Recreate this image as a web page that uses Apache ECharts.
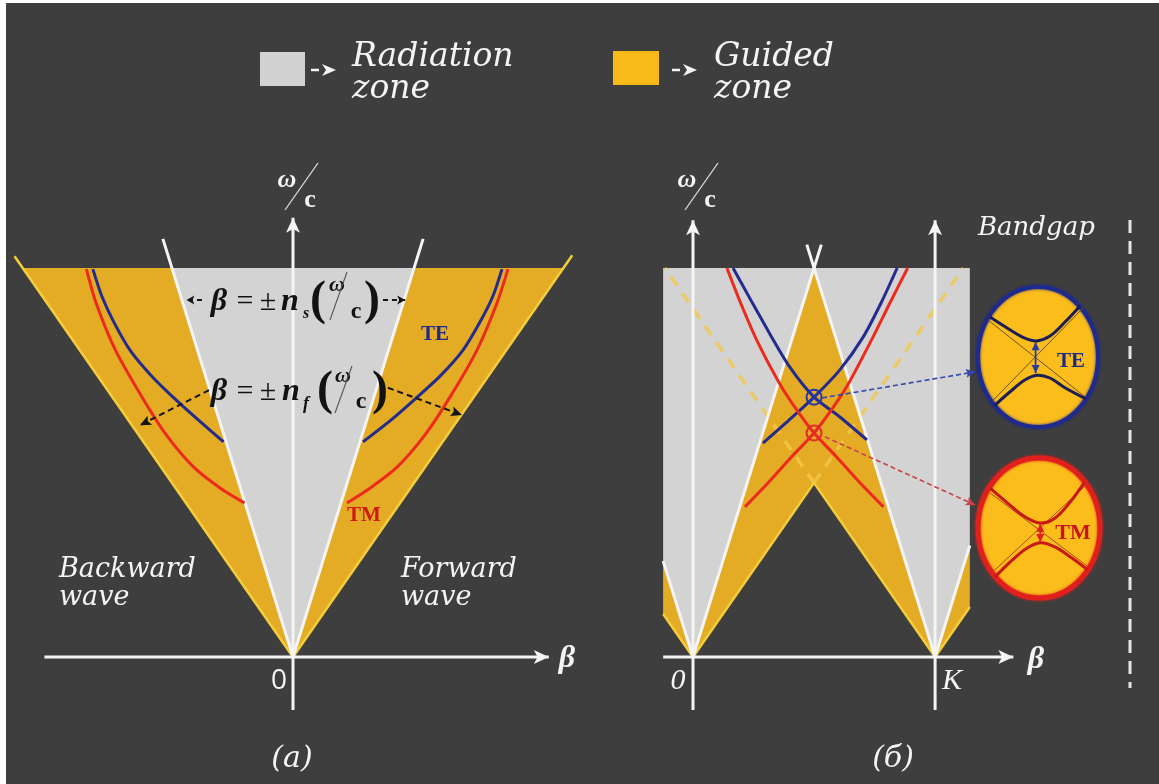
<!DOCTYPE html>
<html>
<head>
<meta charset="utf-8">
<script src="https://cdn.jsdelivr.net/npm/echarts@6/dist/echarts.min.js"></script>
<style>
  html, body { margin: 0; padding: 0; background: #ffffff; }
  #c { width: 1159px; height: 784px; }
</style>
</head>
<body>
<div id="c"></div>
<script>
// ---- model values -------------------------------------------------------
// slopes of the light lines beta = n * (omega / c)
const nSub = 1.5;      // substrate index (radiation-zone edge)
const nFilm = 3.35;    // film index (guided-zone edge)
const omegaTop = 10;   // upper edge of the shaded zones (omega / c)
const K = 30;          // grating vector
const bLeft = -3.7;    // left edge of the zone strip in (b)
const bRight = 34.3;   // right edge of the zone strip in (b)

// (a) guided mode dispersion curves, points [beta, omega/c]
const teRightA = [[8.67, 5.53], [12.02, 6.07], [15.12, 6.63], [18.22, 7.22], [21.07, 7.89], [23.17, 8.61], [24.78, 9.28], [25.9, 9.97]];
const tmRightA = [[6.69, 3.96], [9.54, 4.34], [12.89, 4.88], [16.36, 5.71], [19.45, 6.68], [22.8, 7.89], [25.28, 9.10], [26.64, 9.97]];
const teLeftA = [[-8.6, 5.53], [-11.6, 6.07], [-14.6, 6.63], [-17.5, 7.22], [-20.2, 7.89], [-22.2, 8.61], [-23.7, 9.28], [-24.8, 9.97]];
const tmLeftA = [[-6.0, 3.96], [-9.0, 4.34], [-12.3, 4.88], [-15.7, 5.71], [-18.7, 6.68], [-22.0, 7.89], [-24.4, 9.10], [-25.6, 9.97]];

// (b) folded curves: forward branch from 0 and backward branch from K
const teFwdB = [[8.67, 5.50], [11.9, 6.09], [15.0, 6.68], [18.2, 7.38], [21.1, 8.23], [23.3, 9.10], [25.3, 10.0]];
const teBwdB = [[21.56, 5.58], [18.2, 6.17], [15.0, 6.68], [12.0, 7.45], [9.4, 8.35], [7.1, 9.2], [4.96, 10.0]];
const tmFwdB = [[6.44, 3.86], [9.4, 4.5], [12.2, 5.14], [15.0, 5.76], [17.3, 6.4], [19.3, 7.04], [22.0, 8.1], [24.4, 9.1], [26.6, 10.0]];
const tmBwdB = [[23.6, 3.86], [20.6, 4.5], [17.8, 5.14], [15.0, 5.76], [12.7, 6.4], [10.7, 7.04], [8.0, 8.1], [5.9, 9.1], [4.2, 10.0]];
const teCross = [15.0, 6.68];
const tmCross = [15.0, 5.76];

// zoomed crossings, unit frame [-1, 1]
const insetFrame = [[-1, 1], [1, -1]];
const teUpper = [[-0.8, 0.57], [-0.47, 0.39], [-0.22, 0.27], [-0.02, 0.23], [0.2, 0.3], [0.45, 0.5], [0.7, 0.73]];
const teLower = [[-0.72, -0.69], [-0.47, -0.5], [-0.22, -0.33], [-0.02, -0.26], [0.2, -0.3], [0.45, -0.44], [0.8, -0.6]];
const teAsym = [[[-0.82, 0.52], [0.8, -0.58]], [[-0.75, -0.62], [0.75, 0.7]]];
const teGap = [[-0.04, 0.21], [-0.04, -0.23]];
const tmUpper = [[-0.8, 0.57], [-0.48, 0.33], [-0.23, 0.16], [0.02, 0.07], [0.26, 0.14], [0.51, 0.37], [0.75, 0.66]];
const tmLower = [[-0.72, -0.7], [-0.44, -0.46], [-0.2, -0.29], [0.02, -0.21], [0.26, -0.27], [0.54, -0.43], [0.8, -0.6]];
const tmAsym = [[[-0.8, 0.5], [0.8, -0.55]], [[-0.75, -0.62], [0.78, 0.62]]];
const tmGap = [[0.02, 0.06], [0.02, -0.2]];

// ---- colours --------------------------------------------------------------
const BG = '#3e3e3e', GRAY = '#d3d3d3', GOLD = '#e4ac24', YEL = '#f4cd3a';
const WHITE = '#f4f4f4', BLUE = '#232c8e', RED = '#ec2a1e';

// ---- geometry built from the values above --------------------------------
const half = K / 2;
const zonesGoldA = [[[0, 0], [-nFilm * omegaTop, omegaTop], [nFilm * omegaTop, omegaTop]]];
const zonesGrayA = [[[0, 0], [-nSub * omegaTop, omegaTop], [nSub * omegaTop, omegaTop]]];
const linesFilmA = [[[-nFilm * 10.3, 10.3], [0, 0], [nFilm * 10.33, 10.33]]];
const linesSubA = [[[-nSub * 10.75, 10.75], [0, 0], [nSub * 10.75, 10.75]]];

const zonesGrayB = [
  [[bLeft, omegaTop], [half, omegaTop], [0, 0], [bLeft, -bLeft / nSub]],
  [[half, omegaTop], [bRight, omegaTop], [bRight, (bRight - K) / nSub], [K, 0]]
];
const zonesGoldB = [
  [[0, 0], [bLeft, -bLeft / nSub], [bLeft, -bLeft / nFilm]],
  [[0, 0], [half, half / nSub], [K, 0], [half, half / nFilm]],
  [[K, 0], [bRight, (bRight - K) / nSub], [bRight, (bRight - K) / nFilm]]
];
const linesSubB = [
  [[bLeft, -bLeft / nSub], [0, 0], [nSub * 10.6, 10.6]],
  [[K - nSub * 10.6, 10.6], [K, 0], [bRight, (bRight - K) / nSub]]
];
const linesFilmB = [[[bLeft, -bLeft / nFilm], [0, 0], [half, half / nFilm], [K, 0], [bRight, (bRight - K) / nFilm]]];
const linesFilmDashB = [
  [[half, half / nFilm], [nFilm * omegaTop, omegaTop]],
  [[half, half / nFilm], [K - nFilm * omegaTop, omegaTop]]
];

const axesA = [[[-30.8, 0], [31.7, 0]], [[0, -1.36], [0, 11.29]]];
const axesB = [[[bLeft, 0], [39.7, 0]], [[0, -1.36], [0, 11.23]], [[K, -1.36], [K, 11.23]]];
const dashArrowsA = [[[-10.4, 6.86], [-18.96, 5.96]], [[11.77, 6.92], [20.94, 6.22]]];
const eqArrowsA = [[[-11.28, 9.18], [-13.2, 9.18]], [[11.15, 9.18], [13.9, 9.18]]];
const linkTE = [[[15.98, 6.66], [34.94, 7.33]]];
const linkTM = [[[16.36, 5.66], [34.94, 3.91]]];

// ---- drawing helpers ----------------------------------------------------
function arrowHead(p, q, len, wid, notch) {
  const dx = q[0] - p[0], dy = q[1] - p[1];
  const L = Math.hypot(dx, dy) || 1, ux = dx / L, uy = dy / L, nx = -uy, ny = ux;
  const bx = q[0] - ux * len, by = q[1] - uy * len;
  const m = len * (1 - notch);
  return [[q[0], q[1]], [bx + nx * wid / 2, by + ny * wid / 2],
          [q[0] - ux * m, q[1] - uy * m], [bx - nx * wid / 2, by - ny * wid / 2]];
}

function fillSeries(grid, polys, color, z) {
  return {
    type: 'custom', xAxisIndex: grid, yAxisIndex: grid, z: z, silent: true,
    data: polys.map(p => p[0]),
    renderItem: (params, api) => ({
      type: 'polygon',
      shape: { points: polys[params.dataIndex].map(pt => api.coord(pt)) },
      style: { fill: color }
    })
  };
}

function strokeSeries(grid, lines, o) {
  return {
    type: 'custom', xAxisIndex: grid, yAxisIndex: grid, z: o.z || 5, silent: true,
    data: lines.map(l => l[l.length - 1]),
    renderItem: (params, api) => {
      const pts = lines[params.dataIndex].map(p => api.coord(p));
      const n = pts.length;
      const kids = [{
        type: 'polyline',
        shape: { points: pts, smooth: o.smooth || 0 },
        style: { fill: 'none', stroke: o.color, lineWidth: o.width, lineDash: o.dash || null, lineCap: o.cap || 'butt', opacity: o.opacity == null ? 1 : o.opacity }
      }];
      if (o.head) {
        kids.push({ type: 'polygon', shape: { points: arrowHead(pts[n - 2], pts[n - 1], o.head[0], o.head[1], o.head[2]) }, style: { fill: o.headColor || o.color } });
      }
      if (o.tail) {
        kids.push({ type: 'polygon', shape: { points: arrowHead(pts[1], pts[0], o.tail[0], o.tail[1], o.tail[2]) }, style: { fill: o.headColor || o.color } });
      }
      return { type: 'group', children: kids };
    }
  };
}

function ringSeries(grid, centers, color, z) {
  return {
    type: 'custom', xAxisIndex: grid, yAxisIndex: grid, z: z, silent: true,
    data: centers,
    renderItem: (params, api) => {
      const c = api.coord(centers[params.dataIndex]);
      const s = { stroke: color, lineWidth: 2, fill: 'none' };
      const d = 5.2;
      return {
        type: 'group', children: [
          { type: 'circle', shape: { cx: c[0], cy: c[1], r: 7.5 }, style: s },
          { type: 'line', shape: { x1: c[0] - d, y1: c[1] - d, x2: c[0] + d, y2: c[1] + d }, style: { stroke: color, lineWidth: 1.5 } },
          { type: 'line', shape: { x1: c[0] - d, y1: c[1] + d, x2: c[0] + d, y2: c[1] - d }, style: { stroke: color, lineWidth: 1.5 } }
        ]
      };
    }
  };
}

function ellipseSeries(grid, frame, fill, stroke, width, z) {
  return {
    type: 'custom', xAxisIndex: grid, yAxisIndex: grid, z: z, silent: true,
    data: [frame[0]],
    renderItem: (params, api) => {
      const a = api.coord(frame[0]), b = api.coord(frame[1]);
      return {
        type: 'path',
        shape: {
          pathData: 'M0 50 A50 50 0 1 0 100 50 A50 50 0 1 0 0 50 Z',
          x: a[0], y: a[1], width: b[0] - a[0], height: b[1] - a[1], layout: 'cover'
        },
        style: { fill: fill, stroke: stroke, lineWidth: width, shadowBlur: 3, shadowColor: stroke }
      };
    }
  };
}

// ---- axes (hidden; only provide the scales) -------------------------------
const hiddenAxis = (min, max) => ({ type: 'value', min: min, max: max, show: false });
const grids = [
  { left: 10.55, top: 190.2, width: 564.9, height: 544.6 },
  { left: 652.65, top: 190.2, width: 403.5, height: 544.6 },
  { left: 978, top: 287, width: 120, height: 140 },
  { left: 978, top: 458, width: 122, height: 140 }
].map(g => Object.assign({ containLabel: false, outerBoundsMode: 'none' }, g));

const xAxes = [hiddenAxis(-35, 35), hiddenAxis(-5, 45), hiddenAxis(-1, 1), hiddenAxis(-1, 1)]
  .map((a, i) => Object.assign(a, { gridIndex: i }));
const yAxes = [hiddenAxis(-2, 12), hiddenAxis(-2, 12), hiddenAxis(-1, 1), hiddenAxis(-1, 1)]
  .map((a, i) => Object.assign(a, { gridIndex: i }));

const AXIS_HEAD = [15, 14, 0.25];

const series = [
  // (a) zones
  fillSeries(0, zonesGoldA, GOLD, 1),
  fillSeries(0, zonesGrayA, GRAY, 2),
  strokeSeries(0, linesFilmA, { color: YEL, width: 2.5, z: 3 }),
  strokeSeries(0, linesSubA, { color: WHITE, width: 3, z: 3 }),
  // (a) modes
  strokeSeries(0, [teRightA, teLeftA], { color: BLUE, width: 3, smooth: 0.25, z: 4 }),
  strokeSeries(0, [tmRightA, tmLeftA], { color: RED, width: 3, smooth: 0.25, z: 4 }),
  // (a) axes
  strokeSeries(0, axesA, { color: WHITE, width: 3, head: AXIS_HEAD, z: 6 }),
  // (a) annotation arrows
  strokeSeries(0, dashArrowsA, { color: '#151515', width: 2, dash: [6, 4], head: [11, 10, 0.2], z: 7 }),
  strokeSeries(0, eqArrowsA, { color: '#151515', width: 2, dash: [5, 4], head: [8, 9, 0.25], z: 7 }),

  // (b) zones
  fillSeries(1, zonesGrayB, GRAY, 1),
  fillSeries(1, zonesGoldB, GOLD, 2),
  strokeSeries(1, linesFilmDashB, { color: '#f2c84a', width: 3.5, dash: [11, 9], opacity: 0.8, z: 3 }),
  strokeSeries(1, linesFilmB, { color: YEL, width: 2.5, z: 3 }),
  strokeSeries(1, linesSubB, { color: WHITE, width: 3, z: 3 }),
  // (b) folded modes
  strokeSeries(1, [teFwdB, teBwdB], { color: BLUE, width: 3, smooth: 0.25, z: 4 }),
  strokeSeries(1, [tmFwdB, tmBwdB], { color: RED, width: 3, smooth: 0.25, z: 4 }),
  ringSeries(1, [teCross], '#2436a8', 6),
  ringSeries(1, [tmCross], '#e52a2a', 6),
  // (b) axes
  strokeSeries(1, axesB, { color: WHITE, width: 3, head: AXIS_HEAD, z: 6 }),
  // (b) links to the zoomed crossings
  strokeSeries(1, linkTE, { color: '#3446b0', width: 1.6, dash: [5, 3], head: [9, 9, 0.2], z: 7 }),
  strokeSeries(1, linkTM, { color: '#c8404a', width: 1.6, dash: [5, 3], head: [9, 9, 0.2], z: 7 }),

  // zoomed TE crossing
  ellipseSeries(2, insetFrame, '#fbbd1c', '#1f2a8e', 4, 8),
  strokeSeries(2, teAsym, { color: '#6a5224', width: 1, z: 9 }),
  strokeSeries(2, [teUpper, teLower], { color: '#1c1f55', width: 3, smooth: 0.35, z: 9 }),
  strokeSeries(2, [teGap], { color: '#2a3aa0', width: 1.8, head: [8, 8, 0], tail: [8, 8, 0], z: 10 }),
  // zoomed TM crossing
  ellipseSeries(3, insetFrame, '#fbbd1c', '#e0201c', 5, 8),
  strokeSeries(3, tmAsym, { color: '#b04a20', width: 1, z: 9 }),
  strokeSeries(3, [tmUpper, tmLower], { color: '#c81818', width: 3, smooth: 0.35, z: 9 }),
  strokeSeries(3, [tmGap], { color: '#e02020', width: 1.8, head: [8, 8, 0], tail: [8, 8, 0], z: 10 })
];

// ---- texts and legend -------------------------------------------------------
const CAL = '"DejaVu Serif"';
const MATH = '"Liberation Serif"';
function txt(x, y, text, font, fill, align) {
  const a = align || 'center';
  return {
    type: 'text', x: x, y: y, z: 50, silent: true,
    style: { text: text, font: font, fill: fill, align: a, verticalAlign: 'middle', textAlign: a, textVerticalAlign: 'middle' }
  };
}
function seg(x1, y1, x2, y2, stroke, w, dash) {
  return { type: 'line', z: 50, silent: true, shape: { x1, y1, x2, y2 }, style: { stroke: stroke, lineWidth: w, lineDash: dash || null } };
}
function legendArrow(x, y) {
  return [
    seg(x, y, x + 8, y, WHITE, 2.5),
    { type: 'polygon', z: 50, silent: true, shape: { points: [[x + 11, y - 6], [x + 25, y], [x + 11, y + 6], [x + 15, y]] }, style: { fill: WHITE } }
  ];
}

const legendFont = 'italic 33px ' + CAL;
const labelFont = 'italic 27px ' + CAL;
const eqBig = 'italic bold 32px ' + MATH;
const eqReg = '30px ' + MATH;
const eqParen = 'bold 48px ' + MATH;
const INK = '#121212';

const graphics = [
  { type: 'rect', z: -10, silent: true, shape: { x: 6, y: 3, width: 1153, height: 781 }, style: { fill: BG } },
  // legend
  { type: 'rect', z: 50, silent: true, shape: { x: 260, y: 52, width: 45, height: 34 }, style: { fill: '#d2d2d2' } },
  ...legendArrow(311, 70),
  txt(352, 57, 'Radiation', legendFont, WHITE, 'left'),
  txt(352, 89, 'zone', legendFont, WHITE, 'left'),
  { type: 'rect', z: 50, silent: true, shape: { x: 613, y: 51, width: 46, height: 34 }, style: { fill: '#f8ba18' } },
  ...legendArrow(672, 70),
  txt(714, 57, 'Guided', legendFont, WHITE, 'left'),
  txt(714, 89, 'zone', legendFont, WHITE, 'left'),

  // (a) texts
  txt(287, 180, 'ω', 'italic bold 26px ' + MATH, WHITE),
  seg(285, 210, 318, 163, '#dddddd', 1.3),
  txt(310, 200, 'c', 'bold 26px ' + MATH, WHITE),
  txt(567, 659, 'β', 'italic bold 32px ' + MATH, WHITE),
  txt(279, 681, '0', '28px "Open Sans"', WHITE),
  txt(59, 570, 'Backward', labelFont, WHITE, 'left'),
  txt(59, 598, 'wave', labelFont, WHITE, 'left'),
  txt(401, 570, 'Forward', labelFont, WHITE, 'left'),
  txt(401, 598, 'wave', labelFont, WHITE, 'left'),
  txt(292, 759, '(a)', 'italic 30px ' + CAL, WHITE),
  txt(435, 335, 'TE', 'bold 21px ' + MATH, '#1f2a8a'),
  txt(364, 516, 'TM', 'bold 21px ' + MATH, '#d01818'),

  // (a) equations
  txt(219, 302, 'β', eqBig, INK),
  txt(245, 302, '=', eqReg, INK),
  txt(268, 302, '±', eqReg, INK),
  txt(290, 302, 'n', eqBig, INK),
  txt(306, 314, 's', 'italic bold 16px ' + MATH, INK),
  txt(318, 302, '(', eqParen, INK),
  txt(337, 285, 'ω', 'italic bold 22px ' + MATH, INK),
  seg(330, 320, 347, 272, '#555555', 1.1),
  txt(356, 312, 'c', 'bold 24px ' + MATH, INK),
  txt(372, 302, ')', eqParen, INK),

  txt(219, 392, 'β', eqBig, INK),
  txt(245, 392, '=', eqReg, INK),
  txt(268, 392, '±', eqReg, INK),
  txt(291, 392, 'n', eqBig, INK),
  txt(306, 404, 'f', 'italic bold 18px ' + MATH, INK),
  txt(325, 392, '(', eqParen, INK),
  txt(343, 376, 'ω', 'italic bold 22px ' + MATH, INK),
  seg(335, 413, 352, 366, '#555555', 1.1),
  txt(361, 402, 'c', 'bold 24px ' + MATH, INK),
  txt(380, 392, ')', eqParen, INK),

  // (b) texts
  txt(687, 180, 'ω', 'italic bold 26px ' + MATH, WHITE),
  seg(685, 210, 718, 163, '#dddddd', 1.3),
  txt(710, 200, 'c', 'bold 26px ' + MATH, WHITE),
  txt(1036, 660, 'β', 'italic bold 32px ' + MATH, WHITE),
  txt(678, 681, '0', 'italic 30px ' + MATH, WHITE),
  txt(952, 681, 'K', 'italic 30px ' + MATH, WHITE),
  txt(978, 228, 'Bandgap', 'italic 26px ' + CAL, WHITE, 'left'),
  seg(1130, 220, 1130, 688, '#e6e6e6', 3, [13, 8]),
  txt(893, 759, '(б)', 'italic 30px ' + CAL, WHITE),
  txt(1071, 362, 'TE', 'bold 21px ' + MATH, '#1f2a8a'),
  txt(1073, 533, 'TM', 'bold 22px ' + MATH, '#c8141c')
];

const chart = echarts.init(document.getElementById('c'), null, { renderer: 'canvas', width: 1159, height: 784 });
chart.setOption({
  backgroundColor: '#ffffff',
  animation: false,
  grid: grids,
  xAxis: xAxes,
  yAxis: yAxes,
  series: series,
  graphic: { elements: graphics }
});
</script>
</body>
</html>
